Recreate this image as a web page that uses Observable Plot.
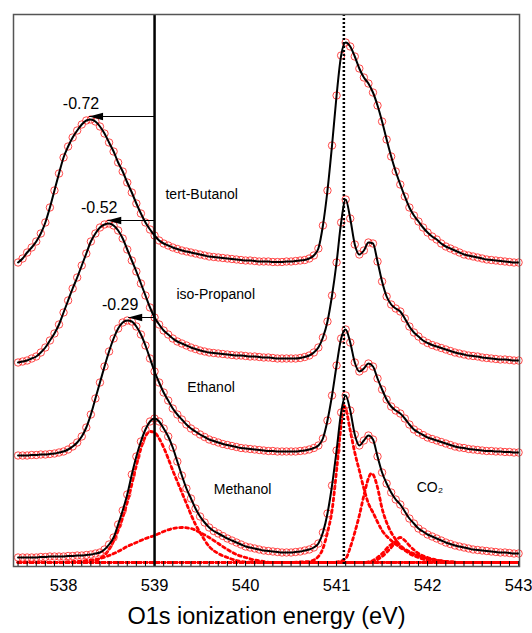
<!DOCTYPE html>
<html>
<head>
<meta charset="utf-8">
<script src="https://cdn.jsdelivr.net/npm/d3@7"></script>
<script src="https://cdn.jsdelivr.net/npm/@observablehq/plot@0.6"></script>
<style>
  html, body { margin: 0; padding: 0; background: #fff; }
</style>
</head>
<body>
<script>
// Photon-energy sampling of the spectra (eV)
const energy = d3.range(111).map(i => +(537.5 + 0.05 * i).toFixed(2));

// Sample names (top to bottom), stacking offsets and O1s shifts relative to methanol
const samples = ["tert-Butanol", "iso-Propanol", "Ethanol", "Methanol"];
const offsets = [304, 204, 111, 9];
const shifts = [-0.72, -0.52, -0.29, 0];
const refEnergies = [539.0, 541.08]; // methanol O1s, CO2 O1s

// Intensities (arb. units) above each spectrum's baseline
const tBuOH = [0,4,10,15,21,29,40,55,72,89,
  105,116,125,132,138,142,143,141,136,129,
  120,111,100,91,80,70,59,49,40,33,
  27,22,19,17,15,13.5,12,11,10,9,
  8,7,6,5.5,5,4.5,4,3.5,3,2.5,
  2,2,1.5,1,1,1,0.5,0.5,0.5,1,
  1,1.5,2,2.5,4,7,14,37,72,117,
  167,207,220,216,206,194,185,179,170,157,
  141,123,106,91,78,66,55,47,41,35,
  30,26,23,19,16,14,12,10,8,7,
  6,5,4,3,2.5,2,1.5,1,0.5,0,
  0];
const iPrOH = [0,1,2,4,6,10,15,22,29,38,
  50,62,74,85,97,109,121,129,135,138,
  139,137,132,124,113,102,91,79,67,55,
  45,38,32,28,24,21,19,17,15,13.5,
  12,11,10,9.5,9,8.5,8,7.5,7,7,
  6.5,6,6,5.5,5,5,4.5,4,4,4,
  4,4,4.5,5.5,7,10,15,25,41,67,
  100,140,163,144,118,108,112,120,119,101,
  81,66,58,54,51,44,36,30,26,22,
  19.5,17.5,16,14.5,13,11.5,10,9,8,7,
  6.5,6,5,4.5,4,3.5,3,3,2.5,2,
  2];
const EtOH = [0,0,0,0.5,0.5,1,1,1.5,2,3,
  4,6,9,13,19,28,41,57,73,89,
  104,117,127,133,135,134,129,121,110,97,
  84,73,63,55,47,41,36,31,27,24,
  21,18.5,16,14.5,13,11.5,10.5,9.5,8.5,7.5,
  7,6.5,6,5.5,5,4.5,4.5,4,4,4,
  4,4,4.5,5,6,7.5,10,17,35,60,
  90,117,126,113,93,84,87,92,89,77,
  66,56,49,45,42,37,31,26,23,20.5,
  18,16.5,15,13.5,12,10.5,9,8,7.5,6.5,
  6,5.5,5,4.5,4.5,4,4,3.5,3.5,3,
  3];
const MeOH = [0,0,0,0,0,0.5,0.5,1,1,1,
  1,1.5,1.5,2,2,2.5,3,4,5,8,
  13,20,33,47,63,83,101,116,128,136,
  139,136,129,121,110,96,82,69,59,49,
  41,35,30,26.5,24,21.5,19,17,15,13,
  11,10,9,8,7,6.5,6,5.5,5,5,
  5,5.5,6,7,8,10,14,25,44,72,
  107,145,162,147,123,112,117,122,118,101,
  85,74,65,58,53,46,39,34,29,26,
  23,21,19,17,15,13.5,12,11,10,9,
  8,7.5,7,6.5,6,5.5,5,5,4.5,4,
  4];
const spectra = [tBuOH, iPrOH, EtOH, MeOH];

// Fit components of the methanol spectrum
const componentOffset = 4;
const compA_E = [537.5,538.2,538.3,538.4,538.5,538.6,538.7,538.8,538.85,538.9,538.95,539.0,539.05,539.1,539.15,539.2,539.25,539.3,539.35,539.4,539.45,539.5,539.6,539.7,539.8,539.9,540.0,540.2,543];
const compA_I = [0,0,1,4,13,32,60,97,114,126,131,130,124,115,104,92,81,70,59,48,38,30,16,9,5,2,0.5,0,0];
const compB_E = [537.5,537.9,538.0,538.2,538.3,538.4,538.5,538.6,538.7,538.8,538.9,539.0,539.1,539.2,539.3,539.4,539.5,539.6,539.7,539.8,539.9,540.0,540.1,540.2,540.3,543];
const compB_I = [0,0,0.5,1.5,2.5,4,7,11,16,20,24,27,31,34,35,34,30,25,19,13,8,5,2.5,1,0,0];
const compC_E = [537.5,540.5,540.6,540.7,540.8,540.85,540.9,540.95,541.0,541.05,541.08,541.1,541.15,541.2,541.25,541.3,541.35,541.4,541.5,541.6,541.7,541.8,541.9,542.0,542.2,542.4,543];
const compC_I = [0,0,0.5,1,6,14,30,52,92,137,157,154,132,110,92,74,59,50,32,22,15,10,6,3.5,1,0,0];
const compD_E = [537.5,540.9,541.0,541.1,541.15,541.2,541.25,541.3,541.35,541.38,541.4,541.45,541.5,541.55,541.6,541.65,541.7,541.8,541.9,542.0,542.2,542.4,543];
const compD_I = [0,0,0.5,4,15,30,47,67,84,89,88,75,54,40,30,23,17,11,7,4,1,0,0];
const compE_E = [537.5,541.3,541.4,541.5,541.6,541.7,541.75,541.8,541.9,542.0,542.2,542.4,543];
const compE_I = [0,0,1,6,15,25,22,17,9,5,1,0,0];
const compF_E = [537.5,541.3,541.4,541.5,541.6,541.65,541.7,541.8,541.9,542.0,542.2,543];
const compF_I = [0,0,2,9,18,19,16,9,5,2,0,0];
const components = [[compA_E, compA_I],[compB_E, compB_I],[compC_E, compC_I],[compD_E, compD_I],[compE_E, compE_I],[compF_E, compF_I]];

// Axis ticks
const tickLabels = [538, 539, 540, 541, 542, 543];
const minorTicks = d3.range(56).map(i => +(537.5 + 0.1 * i).toFixed(1));

// ---- build tables ----
const rows = [];
samples.forEach((s, k) => {
  spectra[k].forEach((v, i) => rows.push({sample: s, e: energy[i], I: v + offsets[k]}));
});
const compRows = [];
components.forEach(([E, I], c) => E.forEach((e, i) => compRows.push({comp: c, e, I: I[i] + componentOffset})));

const arrows = samples.map((s, k) => {
  const peak = d3.max(spectra[k].filter((v, i) => energy[i] < 539.6));
  return {sample: s, x1: refEnergies[0], x2: refEnergies[0] + shifts[k], y: offsets[k] + peak, label: shifts[k].toFixed(2)};
}).filter(d => d.x1 !== d.x2);

const nameLabels = [
  {sample: "tert-Butanol", e: 539.12, y: offsets[0]},
  {sample: "iso-Propanol", e: 539.24, y: offsets[1]},
  {sample: "Ethanol", e: 539.36, y: offsets[2]},
  {sample: "Methanol", e: 539.65, y: offsets[3]}
];

const arrowHead = {draw(ctx) { ctx.moveTo(0, 0); ctx.lineTo(14, -3.8); ctx.lineTo(14, 3.8); ctx.closePath(); }};

const font = "'Liberation Sans', Arial, Helvetica, sans-serif";
const yDomain = [0, 552];
const tickLen = 5; // intensity units (y range is 552 px for 552 units)

const chart = Plot.plot({
  width: 532,
  height: 633,
  marginLeft: 13,
  marginRight: 13,
  marginTop: 14,
  marginBottom: 67,
  style: {fontFamily: font, fontSize: "14px", background: "white", color: "black"},
  x: {domain: [537.45, 543.01]},
  y: {domain: yDomain, axis: null},
  marks: [
    Plot.line(compRows, {x: "e", y: "I", z: "comp", stroke: "#ff0000", strokeWidth: 2.8, strokeDasharray: "2.8,3.2", curve: "monotone-x"}),
    Plot.dot(rows, {x: "e", y: "I", r: 3.7, stroke: "#ff2a2a", strokeWidth: 1, fill: "none", strokeOpacity: 0.85}),
    Plot.line(rows, {x: "e", y: "I", z: "sample", stroke: "black", strokeWidth: 2, curve: "monotone-x"}),
    Plot.ruleX([refEnergies[0]], {stroke: "black", strokeWidth: 2.5}),
    Plot.ruleX([refEnergies[1]], {stroke: "black", strokeWidth: 2.5, strokeDasharray: "2,2"}),
    Plot.link(arrows, {x1: "x1", x2: "x2", y1: "y", y2: "y", dy: -3, stroke: "black", strokeWidth: 1}),
    Plot.dot(arrows, {x: "x2", y: "y", dy: -3, symbol: arrowHead, fill: "black", stroke: "none"}),
    Plot.text(arrows, {x: "x2", y: "y", text: "label", dy: -16, dx: -8, fontSize: 16}),
    Plot.text(nameLabels, {x: "e", y: "y", text: "sample", dy: -68, textAnchor: "start", fontSize: 14}),
    Plot.text(["CO₂"], {x: 541.88, y: offsets[3], text: d => d, dy: -70, textAnchor: "start", fontSize: 14}),
    Plot.ruleX(minorTicks, {x: d => d, y1: yDomain[0], y2: yDomain[0] + tickLen, stroke: "black", strokeWidth: 1}),
    Plot.axisX(tickLabels, {tickSize: 0, tickPadding: 13, fontSize: 16.5, label: null, tickFormat: d => String(d)}),
    Plot.text(["O1s ionization energy (eV)"], {frameAnchor: "bottom", text: d => d, dy: 57, fontSize: 23.5}),
    Plot.frame({stroke: "#555", strokeWidth: 1.5})
  ]
});
document.body.appendChild(chart);
</script>
</body>
</html>
